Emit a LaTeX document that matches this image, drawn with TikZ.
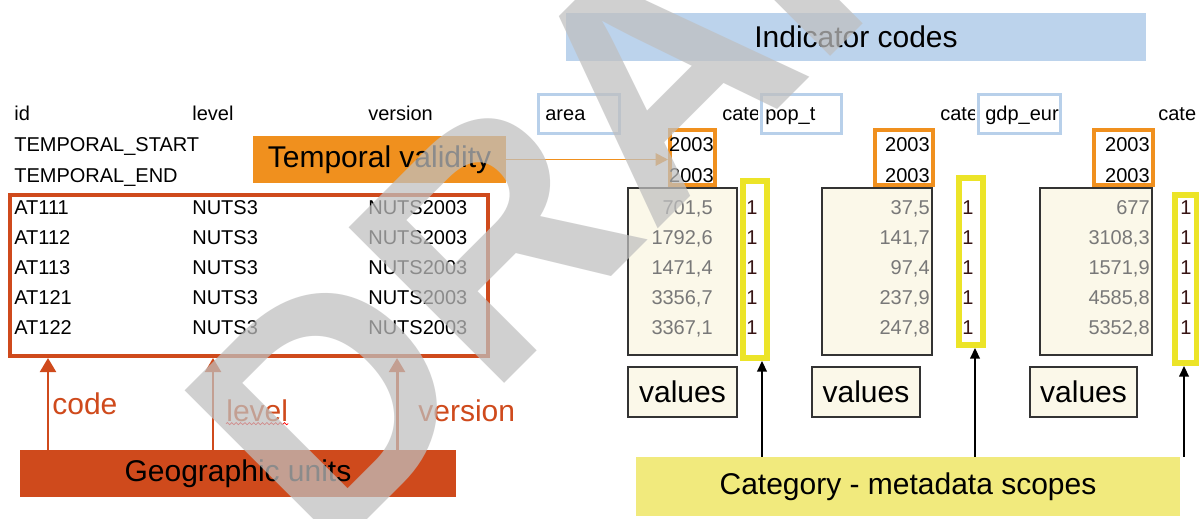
\documentclass[tikz,border=0pt]{standalone}
\usepackage{fontspec}
\setmainfont{Liberation Sans}
\usetikzlibrary{arrows.meta,decorations.pathmorphing}
\newcommand{\fsm}{\fontsize{11.38pt}{13pt}\selectfont}
\newcommand{\fbg}{\fontsize{17.07pt}{19pt}\selectfont}
\newcommand{\fwm}{\bfseries\fontsize{182pt}{182pt}\selectfont}
\definecolor{geored}{RGB}{207,74,28}
\definecolor{torange}{RGB}{240,144,30}
\definecolor{iblue}{RGB}{188,211,236}
\definecolor{hblue}{RGB}{184,208,234}
\definecolor{yel}{RGB}{236,228,40}
\definecolor{catyel}{RGB}{241,234,125}
\definecolor{cream}{RGB}{251,248,233}
\definecolor{valgray}{RGB}{120,120,120}
\definecolor{onecol}{RGB}{55,20,20}
\definecolor{wmgray}{RGB}{191,191,191}
\tikzset{
  txt/.style={font=\fsm, inner sep=0pt, anchor=base west},
  txtr/.style={font=\fsm, inner sep=0pt, anchor=base east},
  valtxt/.style={txtr, text=valgray},
  onetxt/.style={txt, text=onecol},
  bigbox/.style={font=\fbg, inner sep=0pt},
  hdrbox/.style={draw=hblue, line width=1.7pt, inner sep=0pt},
  yrbox/.style={draw=torange, line width=2.3pt, inner sep=0pt},
  valbox/.style={draw=black!80, fill=cream, line width=0.8pt, inner sep=0pt},
  ybox/.style={draw=yel, line width=3.4pt, inner sep=0pt},
  geoarrow/.style={draw=geored, line width=1.7pt, -{Triangle[length=8pt,width=9pt]}},
  blkarrow/.style={draw=black, line width=0.8pt, -{Triangle[length=6pt,width=5.5pt]}},
  lab/.style={font=\fbg, inner sep=0pt, anchor=base west, text=geored},
}
\begin{document}
\begin{tikzpicture}[x=0.02cm, y=-0.02cm]
\useasboundingbox (0,0) rectangle (1199,518);
\begin{scope}
\clip (0,0) rectangle (1199,518);
\fill[white] (0,0) rectangle (1199,518);

% ---- boxes ----
\node[bigbox, fill=iblue, minimum width=11.6cm, minimum height=0.96cm] (ic) at (856,37) {Indicator codes};
\node[bigbox, fill=torange, minimum width=5.06cm, minimum height=0.94cm] (tv) at (379.5,159.5) {Temporal validity};
\node[draw=geored, line width=2.3pt, minimum width=9.56cm, minimum height=3.22cm, inner sep=0pt] (gbox) at (249,275.5) {};
\node[bigbox, fill=geored, minimum width=8.72cm, minimum height=0.94cm] (geo) at (238,473.5) {Geographic units};
\node[bigbox, fill=catyel, minimum width=10.88cm, minimum height=1.18cm] (cat) at (908,486.5) {Category - metadata scopes};

\node[hdrbox, minimum width=1.62cm, minimum height=0.78cm] (ha) at (579,114) {};
\node[hdrbox, minimum width=1.6cm, minimum height=0.78cm] (hp) at (801.5,114) {};
\node[hdrbox, minimum width=1.64cm, minimum height=0.78cm] (hg) at (1019.5,114) {};

\node[yrbox, minimum width=0.9cm, minimum height=1.1cm] (ob1) at (692.5,157.5) {};
\node[yrbox, minimum width=1.16cm, minimum height=1.1cm] (ob2) at (904,157.5) {};
\node[yrbox, minimum width=1.18cm, minimum height=1.1cm] (ob3) at (1123.5,157.5) {};

\node[valbox, minimum width=2.18cm, minimum height=3.34cm] (vb1) at (682.5,271.5) {};
\node[valbox, minimum width=2.2cm, minimum height=3.34cm] (vb2) at (877,271.5) {};
\node[valbox, minimum width=2.24cm, minimum height=3.34cm] (vb3) at (1096,271.5) {};

\node[ybox, minimum width=0.48cm, minimum height=3.54cm] (yb1) at (755,269.5) {};
\node[ybox, minimum width=0.48cm, minimum height=3.34cm] (yb2) at (971,261.5) {};
\node[ybox, minimum width=0.44cm, minimum height=3.36cm] (yb3) at (1186,279) {};

\node[valbox, font=\fbg, minimum width=2.18cm, minimum height=1.0cm] (vl1) at (682.5,392) {values};
\node[valbox, font=\fbg, minimum width=2.16cm, minimum height=1.0cm] (vl2) at (866,392) {values};
\node[valbox, font=\fbg, minimum width=2.14cm, minimum height=1.0cm] (vl3) at (1083.5,392) {values};

% ---- header row ----
\node[txt] (hid) at (14,120) {id};
\node[txt] (hlv) at (192,120) {level};
\node[txt] (hvr) at (368,120) {version};
\node[txt] (tarea) at (545,120) {area};
\node[txt] (tpop) at (765,120) {pop\_t};
\node[txt] (tgdp) at (985,120) {gdp\_eur};
\begin{scope}
\clip (700,95) rectangle (757.5,132);
\node[txt] (cat1) at (722,120) {cate};
\end{scope}
\begin{scope}
\clip (920,95) rectangle (974.5,132);
\node[txt] (cat2) at (940,120) {cate};
\end{scope}
\node[txt] (cat3) at (1158,120) {cate};

\node[txt] (ts) at (14,151) {TEMPORAL\_START};
\node[txt] (te) at (14,182) {TEMPORAL\_END};

\node[txtr] (s1) at (714,151) {2003};
\node[txtr] (e1) at (714,182) {2003};
\node[txtr] (s2) at (930,151) {2003};
\node[txtr] (e2) at (930,182) {2003};
\node[txtr] (s3) at (1150,151) {2003};
\node[txtr] (e3) at (1150,182) {2003};

% ---- data rows ----
\node[txt] (id1) at (14,214) {AT111};
\node[txt] (id2) at (14,244) {AT112};
\node[txt] (id3) at (14,274) {AT113};
\node[txt] (id4) at (14,304) {AT121};
\node[txt] (id5) at (14,334) {AT122};
\foreach \i/\y in {1/214,2/244,3/274,4/304,5/334}{
  \node[txt] (lv\i) at (192,\y) {NUTS3};
  \node[txt] (vr\i) at (368,\y) {NUTS2003};
  \node[onetxt] (onea\i) at (746,\y) {1};
  \node[onetxt] (oneb\i) at (962,\y) {1};
  \node[onetxt] (onec\i) at (1180,\y) {1};
}
\node[valtxt] (va1) at (713,214) {701,5};
\node[valtxt] (va2) at (713,244) {1792,6};
\node[valtxt] (va3) at (713,274) {1471,4};
\node[valtxt] (va4) at (713,304) {3356,7};
\node[valtxt] (va5) at (713,334) {3367,1};
\node[valtxt] (vp1) at (930,214) {37,5};
\node[valtxt] (vp2) at (930,244) {141,7};
\node[valtxt] (vp3) at (930,274) {97,4};
\node[valtxt] (vp4) at (930,304) {237,9};
\node[valtxt] (vp5) at (930,334) {247,8};
\node[valtxt] (vg1) at (1150,214) {677};
\node[valtxt] (vg2) at (1150,244) {3108,3};
\node[valtxt] (vg3) at (1150,274) {1571,9};
\node[valtxt] (vg4) at (1150,304) {4585,8};
\node[valtxt] (vg5) at (1150,334) {5352,8};

% ---- connectors ----
\draw[draw=torange, line width=1.1pt, -{Triangle[length=7pt,width=7pt]}] (tv.east) -- (tv.east -| ob1.west);

\coordinate (gx1) at (48,0);
\coordinate (gx2) at (213,0);
\coordinate (gx3) at (397,0);
\draw[geoarrow] (geo.north -| gx1) -- (gbox.south -| gx1);
\draw[geoarrow] (geo.north -| gx2) -- (gbox.south -| gx2);
\draw[geoarrow] (geo.north -| gx3) -- (gbox.south -| gx3);
\node[lab] (lcode) at (52,414) {code};
\node[lab] (llevel) at (226,421) {level};
\node[lab] (lversion) at (418,421) {version};
\draw[red, line width=0.4pt, decorate, decoration={snake, amplitude=0.6pt, segment length=2.5pt}] ([yshift=-1.5pt]llevel.base west) -- ([yshift=-1.5pt]llevel.base east);

\coordinate (bx1) at (762,0);
\coordinate (bx2) at (975,0);
\coordinate (bx3) at (1184,0);
\draw[blkarrow] (cat.north -| bx1) -- (yb1.south -| bx1);
\draw[blkarrow] (cat.north -| bx2) -- (yb2.south -| bx2);
\draw[blkarrow] (cat.north -| bx3) -- (yb3.south -| bx3);

% ---- watermark ----
\node[font=\fwm, text=wmgray, text opacity=0.73, rotate=45, anchor=base west, inner sep=0pt] (wm) at (325.5,561.5) {DRAFT};
\end{scope}
\end{tikzpicture}
\end{document}
